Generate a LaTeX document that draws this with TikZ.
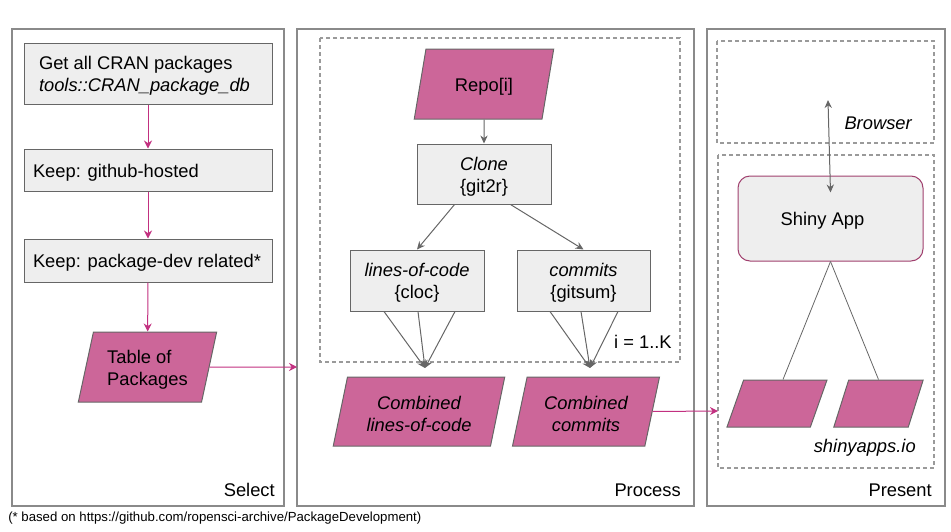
\documentclass[tikz,border=0pt]{standalone}
\usepackage{fontspec}
\setmainfont{Liberation Sans}
\usetikzlibrary{arrows.meta,shapes.geometric,positioning}

\definecolor{pinkfill}{HTML}{CC6699}
\definecolor{linkpink}{RGB}{194,48,128}
\definecolor{shinyedge}{RGB}{160,64,110}
\definecolor{boxfill}{HTML}{EEEEEE}
\definecolor{boxgray}{HTML}{666666}
\definecolor{panelgray}{HTML}{8A8A8A}
\definecolor{dashgray}{HTML}{9A9A9A}
\newcommand\topstrut{\rule{0pt}{13.6pt}}

\begin{document}
\fontsize{13.75}{16.5}\selectfont
\begin{tikzpicture}[x=0.75pt,y=-0.75pt,
    panel/.style={draw=panelgray,line width=0.9pt},
    loop box/.style={draw=dashgray,line width=0.9pt,dash pattern=on 3pt off 2.25pt},
    tag/.style={inner sep=0pt,anchor=base east},
    step box/.style={rectangle,draw=boxgray,fill=boxfill,line width=0.75pt,
        inner ysep=0pt,minimum height=45pt,align=center},
    data node/.style={trapezium,trapezium left angle=76,trapezium right angle=104,
        trapezium stretches=true,draw=boxgray,fill=pinkfill,line width=0.75pt,
        inner sep=1pt,minimum width=104pt,minimum height=52.5pt,align=center},
    pink arrow/.style={-{Stealth[length=6pt,width=6pt]},draw=linkpink,line width=0.75pt},
    gray arrow/.style={-{Stealth[length=6pt,width=5.5pt]},draw=boxgray,line width=0.75pt},
    gray line/.style={draw=boxgray,line width=0.6pt}]

  \useasboundingbox (0,0) rectangle (951,532);

  % three panels
  \draw[panel] (12,29) rectangle (284,506);
  \draw[panel] (297,29) rectangle (694,506);
  \draw[panel] (707,29) rectangle (945,506);
  \node[tag] (selectlbl) at (275,496) {Select};
  \node[tag] (processlbl) at (681,496) {Process};
  \node[tag] (presentlbl) at (932,496) {Present};

  % dashed groups
  \draw[loop box] (320,38) rectangle (680,362);
  \draw[loop box] (717,41) rectangle (934,143);
  \draw[loop box] (718,155) rectangle (934,468);
  \node[tag] (looplbl) at (672,348) {i = 1..K};
  \node[tag,font=\itshape] (browserlbl) at (912,129) {Browser};
  \node[tag,font=\itshape] (hostlbl) at (916,452) {shinyapps.io};

  % Select
  \node[step box,minimum height=45.75pt,inner xsep=11.25pt,text width=163.5pt,align=flush left]
    (cran) at (148,73.5) {\topstrut Get all CRAN packages\\\textit{tools::CRAN\_package\_db}};
  \node[step box,minimum height=31.5pt,inner xsep=6.75pt,text width=172.5pt,align=flush left]
    (github) at (148,170) {\topstrut Keep: github-hosted};
  \node[step box,minimum height=32.25pt,inner xsep=6.75pt,text width=172.5pt,align=flush left]
    (pkgdev) at (148,260.5) {\topstrut Keep: package-dev related*};
  \node[data node,align=left] (table) at (147.5,367) {\topstrut Table of\\Packages};

  % Process
  \node[data node,minimum width=105pt] (repo) at (484,84) {\topstrut Repo[i]};
  \node[step box,minimum width=100.5pt] (clone) at (484,174) {\topstrut\textit{Clone}\\\{git2r\}};
  \node[step box,minimum width=100.5pt,minimum height=45.75pt]
    (loc) at (417,280.5) {\topstrut\textit{lines-of-code}\\\{cloc\}};
  \node[step box,minimum width=99.75pt,minimum height=45.75pt]
    (commits) at (583.5,280.5) {\topstrut\textit{commits}\\\{gitsum\}};
  \node[data node,minimum width=129pt,minimum height=51.75pt,font=\itshape]
    (comloc) at (419,411.5) {\topstrut Combined\\lines-of-code};
  \node[data node,minimum width=111pt,minimum height=51.75pt,font=\itshape]
    (comcommits) at (586,411.5) {\topstrut Combined\\commits};
  \coordinate (mergeloc) at (425,368);
  \coordinate (mergecom) at (590,368);

  % Present
  \coordinate (browserpt) at (828,100);
  \node[step box,draw=shinyedge,rounded corners=9pt,minimum width=138.75pt,
    minimum height=63.75pt] (shiny) at (830.5,218.5) {\topstrut Shiny App\hspace{12pt}};
  \node[data node,minimum width=75pt,minimum height=35.25pt] (appa) at (777,403.5) {};
  \node[data node,minimum width=67pt,minimum height=35.25pt] (appb) at (878.5,403.5) {};

  % links
  \coordinate (procin) at (297,367);
  \coordinate (presin) at (718,411);
  \draw[pink arrow] (cran) -- (github);
  \draw[pink arrow] (github) -- (pkgdev);
  \draw[pink arrow] (pkgdev) -- (table);
  \draw[pink arrow] (table.east) -- (procin);
  \draw[pink arrow] (comcommits.east) -- (presin);

  \draw[gray arrow] (repo) -- (clone);
  \draw[gray arrow] (clone.-134) -- (loc.north);
  \draw[gray arrow] (clone.-49) -- (commits.north);
  \foreach \dx in {-33,1,38}
    \draw[gray arrow] ([xshift=\dx*0.75pt]loc.south) -- (mergeloc);
  \foreach \dx in {-33.5,-2.5,34.5}
    \draw[gray arrow] ([xshift=\dx*0.75pt]commits.south) -- (mergecom);

  \draw[gray arrow,{Stealth[length=6pt,width=5.5pt]}-{Stealth[length=6pt,width=5.5pt]}]
    (browserpt) -- ([yshift=-12.75pt]shiny.north);
  \draw[gray line] (shiny.south) -- ([xshift=4.5pt]appa.north);
  \draw[gray line] (shiny.south) -- (appb.north);

  \node[inner sep=0pt,anchor=base west,font=\fontsize{9.9}{11}\selectfont] (footnote) at (8,521)
    {(* based on https://github.com/ropensci-archive/PackageDevelopment)};
\end{tikzpicture}
\end{document}
